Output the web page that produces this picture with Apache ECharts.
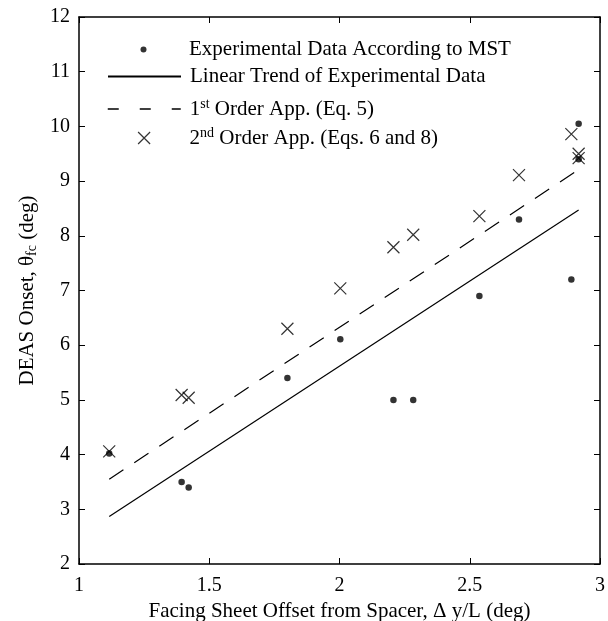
<!DOCTYPE html>
<html lang="en">
<head>
    <meta charset="UTF-8">
    <title>DEAS Onset</title>
    <style>
        html, body { margin: 0; padding: 0; background: #fff; }
        .div { width: 608px; height: 621px; }
    </style>
</head>
<body>
    <div class="div"></div>
</body>
<script src="https://cdn.jsdelivr.net/npm/echarts@6/dist/echarts.min.js"></script>
<script>
    // experimental points (MST)
    var expX = [1.116, 1.394, 1.421, 1.80, 2.003, 2.207, 2.283, 2.537, 2.689, 2.890, 2.918, 2.918];
    var expY = [4.02, 3.50, 3.40, 5.40, 6.11, 5.00, 5.00, 6.90, 8.30, 7.20, 10.05, 9.40];
    // 2nd order approximation
    var appX = [1.116, 1.394, 1.421, 1.80, 2.003, 2.207, 2.283, 2.537, 2.689, 2.890, 2.918, 2.918];
    var appY = [4.06, 5.09, 5.04, 6.30, 7.04, 7.79, 8.02, 8.36, 9.11, 9.86, 9.50, 9.42];
    // end points of the two straight lines
    var lineX = [1.116, 2.918];
    var trendY = [2.87, 8.47];
    var firstY = [3.55, 9.21];

    var xTicks = { min: 1, max: 3, interval: 0.5 };
    var yTicks = { min: 2, max: 12, interval: 1 };

    var legendNames = ['exp', 'trend', 'first', 'second'];
    var legendTexts = [
        'Experimental Data According to MST',
        'Linear Trend of Experimental Data',
        '1{sup|st} Order App. (Eq. 5)',
        '2{sup|nd} Order App. (Eqs. 6 and 8)'
    ];

    function pairs(xs, ys) {
        return xs.map(function (x, i) { return [x, ys[i]]; });
    }

    var font = 'Liberation Serif';
    var cross = 'path://M0,0L10,10M10,0L0,10';

    var mChart = echarts.init(document.getElementsByClassName('div')[0]);

    var axisBase = {
        type: 'value',
        axisLine: { show: true, lineStyle: { color: '#000', width: 1.5 } },
        axisTick: { inside: true, length: 6, lineStyle: { color: '#000', width: 1 } },
        splitLine: { show: false }
    };

    // one legend per entry so each can get its own icon size / position
    // icon sample spans x 107..180, text starts at x 189
    var legendTops = [39, 66, 97, 126];
    var iconSize = { exp: 6, trend: 73, first: 73, second: 12 };
    var legends = legendNames.map(function (name, i) {
        var isLine = (name === 'trend' || name === 'first');
        var w = iconSize[name];
        var left = isLine ? 107 : 143.5 - w / 2;
        var pad = 189 - (left + w + 5);
        var leg = {
            orient: 'vertical',
            left: left,
            top: legendTops[i],
            padding: 0,
            itemWidth: w,
            itemHeight: isLine ? 13 : w,
            selectedMode: false,
            data: [name],
            formatter: function () { return legendTexts[i]; },
            textStyle: {
                fontFamily: font, fontSize: 21, color: '#000', padding: [0, 0, 0, pad],
                rich: {
                    sup: { fontFamily: font, fontSize: 14, verticalAlign: 'top', padding: [0, 0, 10, 0] }
                }
            }
        };
        if (isLine) leg.itemStyle = { opacity: 0 };
        if (name === 'first') leg.lineStyle = { type: [11, 21], width: 1.5, color: '#000' };
        if (name === 'second') leg.itemStyle = { borderWidth: 1.2 };
        return leg;
    });

    var option = {
        animation: false,
        backgroundColor: '#fff',
        textStyle: { fontFamily: font, color: '#000' },
        grid: { left: 79, right: 8, top: 17, bottom: 57, outerBoundsMode: 'none', containLabel: false },
        legend: legends,
        xAxis: [
            Object.assign({}, axisBase, {
                min: xTicks.min, max: xTicks.max, interval: xTicks.interval,
                position: 'bottom',
                axisLabel: { fontFamily: font, fontSize: 20, color: '#000', margin: 12 },
                name: 'Facing Sheet Offset from Spacer, Δ y/L (deg)',
                nameLocation: 'middle',
                nameGap: 36,
                nameTextStyle: { fontFamily: font, fontSize: 21, color: '#000' }
            }),
            Object.assign({}, axisBase, {
                min: xTicks.min, max: xTicks.max, interval: xTicks.interval,
                position: 'top',
                axisLabel: { show: false }
            })
        ],
        yAxis: [
            Object.assign({}, axisBase, {
                min: yTicks.min, max: yTicks.max, interval: yTicks.interval,
                position: 'left',
                axisLabel: { fontFamily: font, fontSize: 20, color: '#000', margin: 9 },
                name: 'DEAS Onset, θ{sub|fc} (deg)',
                nameLocation: 'middle',
                nameGap: 40,
                nameRotate: 90,
                nameTextStyle: {
                    fontFamily: font, fontSize: 21, color: '#000',
                    rich: {
                        sub: { fontFamily: font, fontSize: 14, verticalAlign: 'bottom', padding: [10, 0, 0, 0] }
                    }
                }
            }),
            Object.assign({}, axisBase, {
                min: yTicks.min, max: yTicks.max, interval: yTicks.interval,
                position: 'right',
                axisLabel: { show: false }
            })
        ],
        series: [
            {
                name: 'exp',
                type: 'scatter',
                symbol: 'circle',
                symbolSize: 6.5,
                itemStyle: { color: '#000' },
                data: pairs(expX, expY),
                z: 3
            },
            {
                name: 'trend',
                type: 'line',
                symbol: 'none',
                lineStyle: { color: '#000', width: 1.2 },
                itemStyle: { color: '#000' },
                data: pairs(lineX, trendY)
            },
            {
                name: 'first',
                type: 'line',
                symbol: 'none',
                lineStyle: { color: '#000', width: 1.2, type: [17, 13] },
                itemStyle: { color: '#000' },
                data: pairs(lineX, firstY)
            },
            {
                name: 'second',
                type: 'scatter',
                symbol: cross,
                symbolSize: 12,
                itemStyle: { color: 'rgba(0,0,0,0)', borderColor: '#000', borderWidth: 1.2 },
                data: pairs(appX, appY),
                z: 4
            }
        ]
    };

    mChart.setOption(option);
</script>
</html>
